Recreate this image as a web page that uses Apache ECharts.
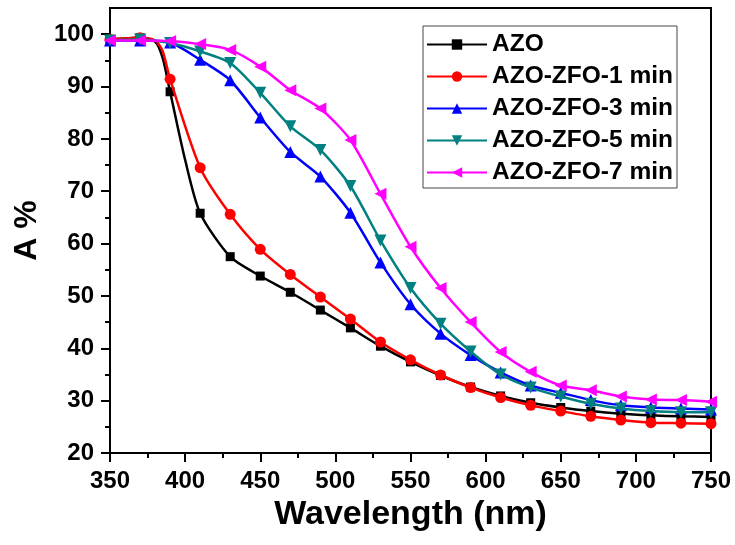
<!DOCTYPE html>
<html>
<head>
<meta charset="utf-8">
<script src="https://cdn.jsdelivr.net/npm/echarts@6/dist/echarts.min.js"></script>
<style>
html,body{margin:0;padding:0;background:#fff;}
#chart{width:735px;height:545px;}
</style>
</head>
<body>
<div id="chart"></div>
<script>
// Wavelength (nm) where markers are drawn
const wavelength = [350,370,390,410,430,450,470,490,510,530,550,570,590,610,630,650,670,690,710,730,750];
const seriesNames = ['AZO','AZO-ZFO-1 min','AZO-ZFO-3 min','AZO-ZFO-5 min','AZO-ZFO-7 min'];
// A % values at the marker wavelengths
const azo  = [99.0,99.3,89.0,65.8,57.5,53.8,50.7,47.3,43.9,40.4,37.4,34.8,32.6,30.9,29.6,28.7,28.0,27.5,27.2,27.0,26.9];
const zfo1 = [99.0,99.3,91.4,74.5,65.6,58.9,54.1,49.8,45.6,41.2,37.8,34.9,32.5,30.6,29.1,28.0,27.0,26.3,25.8,25.7,25.6];
const zfo3 = [98.8,98.8,98.4,95.1,91.2,84.1,77.5,72.8,65.9,56.4,48.4,42.8,38.7,35.4,32.9,31.5,30.1,29.1,28.7,28.5,28.3];
const zfo5 = [98.8,99.0,98.3,96.7,94.5,88.8,82.4,77.9,71.0,60.6,51.5,44.7,39.4,35.0,32.5,30.8,29.4,28.5,28.0,27.8,27.8];
const zfo7 = [98.8,98.8,98.7,98.1,97.0,93.8,89.3,85.8,79.8,69.5,59.4,51.5,45.0,39.3,35.5,32.9,32.0,30.8,30.2,30.1,29.8];
// extra curve points (no marker) around the sharp absorption edge
const azoEdgeWl  = [380,385,400];
const azoEdge    = [98.6,95.5,76.0];
const zfo1EdgeWl = [380,385];
const zfo1Edge   = [98.8,96.8];
// tick labels
const yTicks = [20,30,40,50,60,70,80,90,100];
const yMinorTicks = [25,35,45,55,65,75,85,95];

function pairs(xs, ys, exXs, exYs){
  const out = xs.map((x,i)=>[x, ys[i]]);
  if (exXs) exXs.forEach((x,i)=>out.push([x, exYs[i]]));
  out.sort((a,b)=>a[0]-b[0]);
  return out;
}
const colors = ['#000000','#ff0000','#0000ff','#008080','#ff00ff'];
const symbols = ['rect','circle','triangle','triangle','triangle'];
const rotations = [0,0,0,180,90];
const sizes = [9,11,12,12,12];
const dataSets = [
  pairs(wavelength, azo, azoEdgeWl, azoEdge),
  pairs(wavelength, zfo1, zfo1EdgeWl, zfo1Edge),
  pairs(wavelength, zfo3),
  pairs(wavelength, zfo5),
  pairs(wavelength, zfo7)
];

const chart = echarts.init(document.getElementById('chart'), null, {renderer:'canvas'});
const FONT = 'Liberation Sans, Arial, sans-serif';
const series = dataSets.map((d,i)=>({
  name: seriesNames[i],
  type: 'line',
  data: d,
  smooth: 0.25,
  symbol: symbols[i],
  symbolRotate: rotations[i],
  symbolSize: function(v){ return (v[0] % 20 === 10) ? sizes[i] : 0; },
  showAllSymbol: true,
  color: colors[i],
  lineStyle: {width: 2.5, color: colors[i]},
  itemStyle: {color: colors[i]},
  emphasis: {disabled: true},
  animation: false,
  z: 2 + i
}));

chart.setOption({
  backgroundColor: '#ffffff',
  animation: false,
  grid: {left: 110, right: 24, top: 8, bottom: 92, show: true, borderColor: '#000', borderWidth: 2, backgroundColor: 'transparent'},
  legend: {
    orient: 'vertical', left: 423, top: 26,
    data: seriesNames,
    itemWidth: 60, itemHeight: 13, itemGap: 7,
    padding: [6, 4, 3, 3],
    borderColor: '#444', borderWidth: 1,
    backgroundColor: '#fff',
    textStyle: {fontFamily: FONT, fontWeight: 'bold', fontSize: 24.5, color: '#000'},
    selectedMode: false
  },
  xAxis: {
    type: 'value', min: 350, max: 750, interval: 50,
    name: 'Wavelength (nm)', nameLocation: 'middle', nameGap: 40,
    nameTextStyle: {fontFamily: FONT, fontWeight: 'bold', fontSize: 34, color: '#000'},
    axisLine: {show: true, onZero: false, lineStyle: {color: '#000', width: 2}},
    axisTick: {show: true, inside: false, length: 9, lineStyle: {color: '#000', width: 2}},
    minorTick: {show: true, splitNumber: 2, length: 5, lineStyle: {color: '#000', width: 2}},
    axisLabel: {fontFamily: FONT, fontWeight: 'bold', fontSize: 24, color: '#000', margin: 16},
    splitLine: {show: false}
  },
  yAxis: [{
    type: 'value', min: 20, max: 105,
    name: 'A %', nameLocation: 'middle', nameGap: 64, nameRotate: 90,
    nameTextStyle: {fontFamily: FONT, fontWeight: 'bold', fontSize: 32, color: '#000'},
    axisLine: {show: true, onZero: false, lineStyle: {color: '#000', width: 2}},
    axisTick: {show: true, inside: false, length: 9, customValues: yTicks, lineStyle: {color: '#000', width: 2}},
    axisLabel: {fontFamily: FONT, fontWeight: 'bold', fontSize: 24, color: '#000', margin: 16, customValues: yTicks},
    splitLine: {show: false}
  },{
    type: 'value', min: 20, max: 105, position: 'left',
    axisLine: {show: false},
    axisTick: {show: true, inside: false, length: 5, customValues: yMinorTicks, lineStyle: {color: '#000', width: 2}},
    axisLabel: {show: false},
    splitLine: {show: false}
  }],
  series: series
});
</script>
</body>
</html>
